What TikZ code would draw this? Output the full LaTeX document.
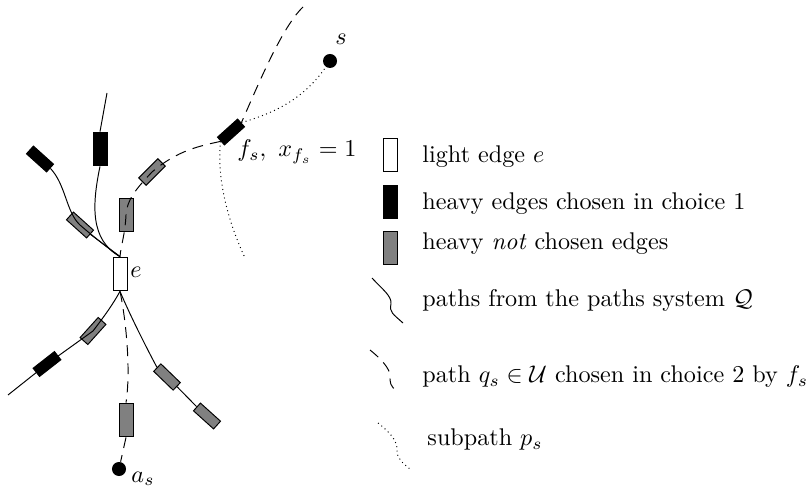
\documentclass[tikz,border=0pt]{standalone}
\begin{document}
\begin{tikzpicture}[x=0.414pt,y=-0.414pt,
  edgebox/.style={draw,rectangle,inner sep=0pt},
  vbox/.style={edgebox,minimum width=5.8pt,minimum height=14pt},
  rbox/.style={edgebox,minimum width=11.2pt,minimum height=4.3pt},
  light/.style={fill=white},
  heavyc/.style={fill=black},
  heavyn/.style={fill=gray},
  qpath/.style={dash pattern=on 4.5pt off 3pt},
  ppath/.style={dash pattern=on 0.4pt off 1.4pt},
  dotnode/.style={circle,fill=black,inner sep=0pt,minimum size=5.8pt},
  lbl/.style={inner sep=0pt,anchor=base west},
  legtext/.style={anchor=base west,inner sep=0pt}]
\useasboundingbox (0,0) rectangle (811,494);

% edges
\node[vbox,light] (e) at (120,274) {};
\node[vbox,heavyc] (hv) at (100,149) {};
\node[rbox,heavyc,rotate=-42] (htl) at (40,159) {};
\node[rbox,heavyn,rotate=-42] (g1) at (80,225) {};
\node[rbox,heavyc,rotate=42] (fs) at (231,132) {};
\node[rbox,heavyn,rotate=45] (g2) at (152,172) {};
\node[vbox,heavyn] (g3) at (126,215) {};
\node[rbox,heavyn,rotate=48] (g4) at (93,331) {};
\node[rbox,heavyc,rotate=38] (lb) at (47,364) {};
\node[rbox,heavyn,rotate=-44] (g5) at (167,377) {};
\node[rbox,heavyn,rotate=-42] (g6) at (207,416) {};
\node[vbox,heavyn] (lg) at (126,420) {};
\node[dotnode] (s) at (330,61) {};
\node[dotnode] (as) at (119,469) {};

% labels
\node[lbl] (slab) at (335,45) {$s$};
\node[lbl] (flab) at (237,157) {$f_s,\ x_{f_s}=1$};
\node[lbl] (elab) at (130,278) {$e$};
\node[lbl] (alab) at (131,482) {$a_s$};

% free ends
\coordinate (qtop) at (303,7);
\coordinate (pend) at (245,258);
\coordinate (hvtop) at (107,93);
\coordinate (llend) at (8,395);

% path q_s (dashed)
\draw[qpath] (qtop) .. controls (282,27) and (258,85) .. (fs.east);
\draw[qpath] (fs.west) .. controls (200,146) and (178,150) .. (g2.center)
  .. controls (135,190) and (127,200) .. (g3.center)
  .. controls (125,235) and (121,245) .. (e.north);
\draw[qpath] (e.south) .. controls (126,320) and (131,370) .. (lg.north);
\draw[qpath] (lg.south) -- (as);

% subpath p_s (dotted)
\draw[ppath] (fs.east) .. controls (278,112) and (305,97) .. (s);
\draw[ppath] (fs.west) .. controls (216,185) and (232,230) .. (pend);

% paths system Q (solid)
\draw (hv.north) -- (hvtop);
\draw (hv.south) .. controls (92,205) and (90,240) .. (e.north);
\draw (htl.east) .. controls (66,185) and (66,212) .. (g1.center)
  .. controls (95,238) and (108,248) .. (e.north);
\draw (g1.east) -- (e.north);
\draw (e.south) .. controls (113,304) and (106,314) .. (g4.center) -- (lb.center) -- (llend);
\draw (e.south) .. controls (130,315) and (145,345) .. (g5.west);
\draw (g5.east) -- (g6.west);

% legend
\node[vbox,light] (k1) at (390,155) {};
\node[vbox,heavyc] (k2) at (390,202) {};
\node[vbox,heavyn] (k3) at (390,248) {};
\node[legtext] (t1) at (422,163) {light edge $e$};
\node[legtext] (t2) at (422,210) {heavy edges chosen in choice 1};
\node[legtext] (t3) at (422,250) {heavy \textit{not} chosen edges};
\node[legtext] (t4) at (422,307) {paths from the paths system $\mathcal{Q}$};
\node[legtext] (t5) at (422,383) {path $q_s\in\mathcal{U}$ chosen in choice 2 by $f_s$};
\node[legtext] (t6) at (427,446) {subpath $p_s$};

\draw (372,278) .. controls (382,289) and (392,296) .. (391,304)
  .. controls (389,312) and (393,314) .. (403,323);
\draw[qpath] (370,350) .. controls (385,362) and (392,372) .. (390,380)
  .. controls (390,386) and (395,390) .. (399,393);
\draw[ppath] (378,423) .. controls (392,434) and (398,442) .. (397,452)
  .. controls (398,460) and (404,464) .. (410,469);
\end{tikzpicture}
\end{document}
